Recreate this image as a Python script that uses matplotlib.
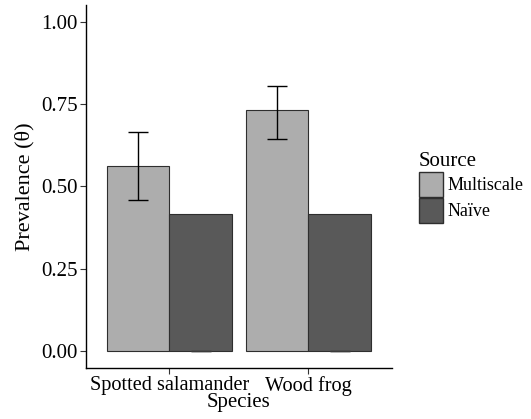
import numpy as np
import matplotlib.pyplot as plt
from matplotlib.patches import Patch

plt.rcParams['font.family'] = ['Liberation Serif', 'DejaVu Serif']

# Data
species = ['Spotted salamander', 'Wood frog']
multiscale = [0.563, 0.731]
multiscale_lo = [0.458, 0.643]
multiscale_hi = [0.664, 0.805]
naive = [0.418, 0.416]
naive_lo = [0.0, 0.0]
naive_hi = [0.0, 0.0]

light = '#adadad'
dark = '#595959'
edge = '#2e2e2e'

fig = plt.figure(figsize=(5.31, 4.19), dpi=100)
ax = fig.add_axes([0.162, 0.122, 0.576, 0.866])

x = np.arange(1, len(species) + 1)
w = 0.45
ax.bar(x - w / 2, multiscale, width=w, color=light, edgecolor=edge, linewidth=0.8)
ax.bar(x + w / 2, naive, width=w, color=dark, edgecolor=edge, linewidth=0.8)

m = np.array(multiscale)
ax.errorbar(x - w / 2, m, yerr=[m - np.array(multiscale_lo), np.array(multiscale_hi) - m],
            fmt='none', ecolor='black', elinewidth=1.0, capsize=7, capthick=1.0)
n = np.array(naive_lo)
ax.errorbar(x + w / 2, n, yerr=[n - np.array(naive_lo), np.array(naive_hi) - n],
            fmt='none', ecolor='#3a3a3a', elinewidth=1.0, capsize=7, capthick=1.0)

ax.set_xlim(0.4, 2.6)
ax.set_ylim(-0.05, 1.05)
ax.set_yticks([0, 0.25, 0.5, 0.75, 1.0])
ax.set_yticklabels(['0.00', '0.25', '0.50', '0.75', '1.00'])
ax.set_xticks(x)
ax.set_xticklabels(species)
ax.tick_params(length=4, width=0.8, color='#333333', pad=2)
ax.tick_params(axis='y', labelsize=15)
ax.tick_params(axis='x', labelsize=14.6)

for s in ['top', 'right']:
    ax.spines[s].set_visible(False)
for s in ['left', 'bottom']:
    ax.spines[s].set_linewidth(1.0)
    ax.spines[s].set_color('black')

ax.set_xlabel('Species', fontsize=15, labelpad=-2)
ax.set_ylabel('Prevalence (θ)', fontsize=16, labelpad=5)

handles = [Patch(facecolor=light, edgecolor=edge, label='Multiscale'),
           Patch(facecolor=dark, edgecolor=edge, label='Naïve')]
fig.legend(handles=handles, title='Source', loc='upper left',
           bbox_to_anchor=(0.775, 0.655), frameon=False, fontsize=13,
           title_fontsize=15, handlelength=1.35, handleheight=1.75,
           handletextpad=0.25, labelspacing=0.05, borderaxespad=0,
           alignment='left')

fig.savefig('out.png', dpi=100)
